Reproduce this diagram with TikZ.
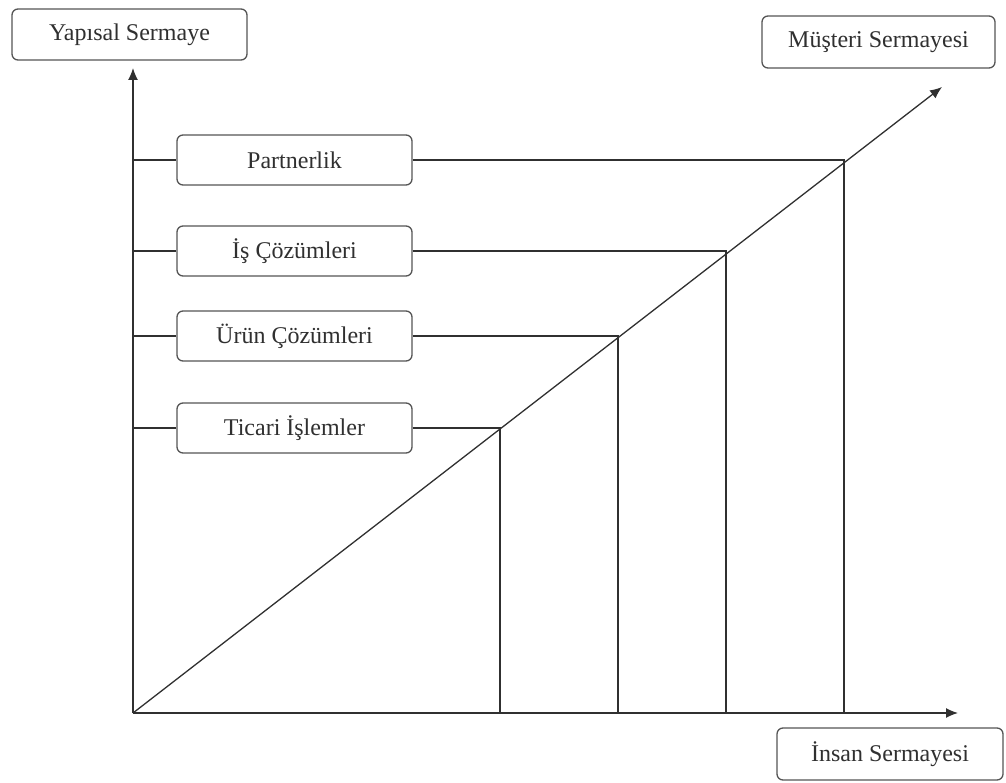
\documentclass[tikz,border=0pt]{standalone}
\usepackage{fontspec}
\setmainfont{Liberation Serif}
\usetikzlibrary{arrows.meta}
\definecolor{ink}{HTML}{303030}
\definecolor{frame}{HTML}{555555}
\begin{document}
\begin{tikzpicture}[x=1pt,y=-1pt,
  label box/.style={draw=frame,line width=1.3pt,rounded corners=6pt,fill=white,
    minimum width=235pt,minimum height=50pt,inner sep=0pt,
    text=ink,font=\fontsize{24}{28}\selectfont},
  axis/.style={draw=ink,line width=1.3pt,-{Latex[length=12pt,width=10pt]}},
  guide/.style={draw=ink,line width=1.2pt}]
\useasboundingbox (0,0) rectangle (1006,783);

% axes
\coordinate (O) at (133,713);
\coordinate (Ytop) at (133,68);
\coordinate (Xend) at (958,713);
\coordinate (Dend) at (942,87);
\draw[axis] (O) -- (Ytop);
\draw[axis] (O) -- (Xend);
\draw[axis] (O) -- (Dend);

% axis titles
\node[label box,minimum width=235pt,minimum height=51pt] (ys) at (129.5,34.5) {Yapısal Sermaye};
\node[label box,minimum width=233pt,minimum height=52pt] (ms) at (878.5,42) {Müşteri Sermayesi};
\node[label box,minimum width=226pt,minimum height=52pt] (is) at (890,754) {İnsan Sermayesi};

% levels along the diagonal
\foreach \name/\txt/\y/\x in {p/Partnerlik/160/844,
                               c/İş Çözümleri/251/726,
                               u/Ürün Çözümleri/336/618,
                               t/Ticari İşlemler/428/500}{
  \coordinate (\name-ax) at (133,\y);
  \coordinate (\name-d) at (\x,\y);
  \coordinate (\name-b) at (\x,713);
  \node[label box] (\name) at (294.5,\y) {\txt};
  \draw[guide] (\name-ax) -- (\name.west);
  \draw[guide] (\name.east) -- (\name-d) -- (\name-b);
}
\end{tikzpicture}
\end{document}
